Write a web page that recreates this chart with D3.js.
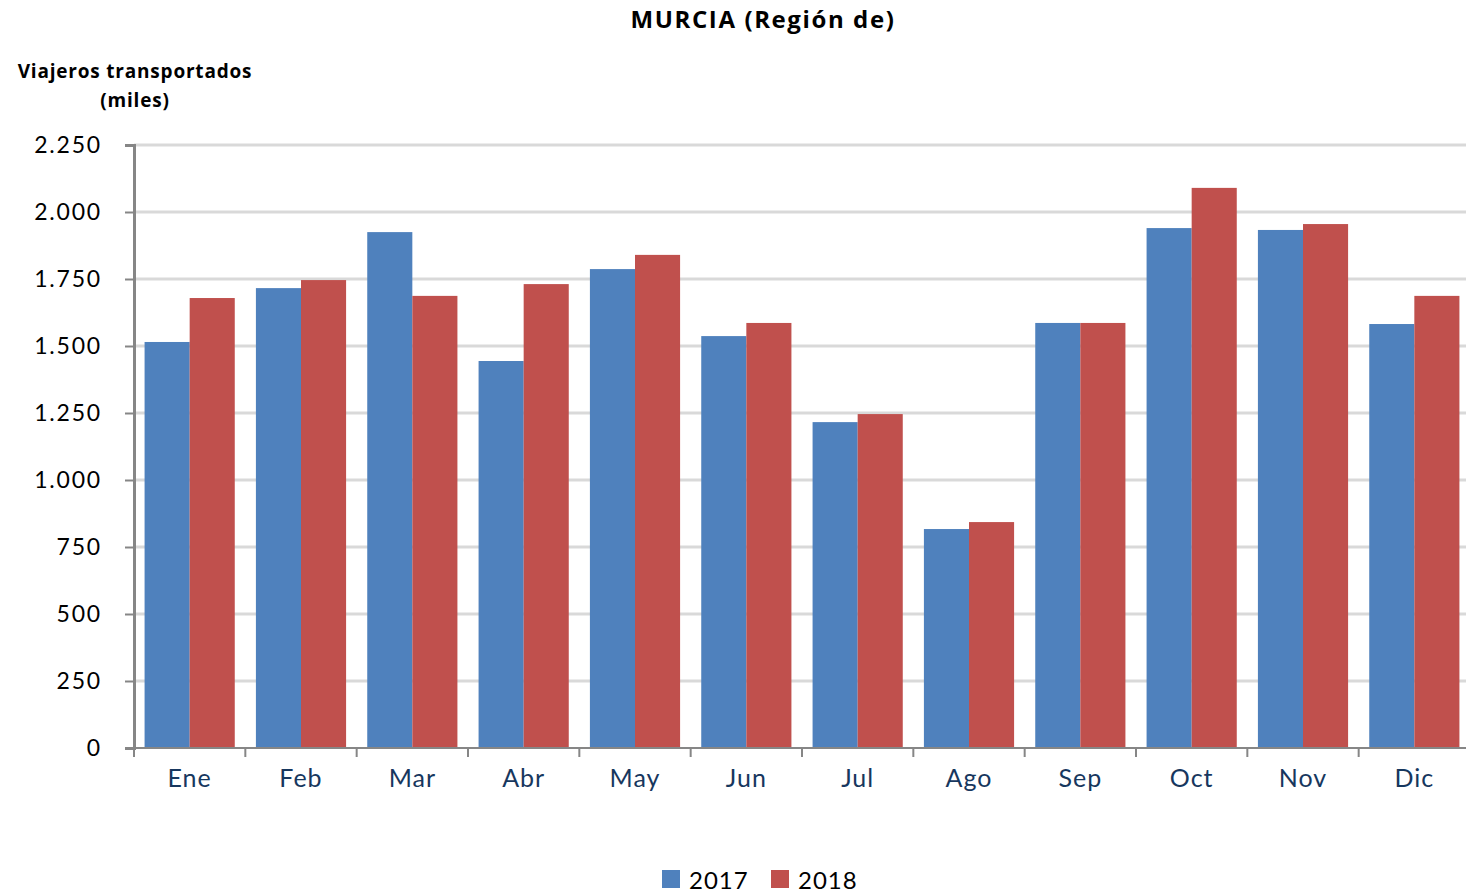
<!DOCTYPE html>
<html><head><meta charset="utf-8">
<script src="https://cdn.jsdelivr.net/npm/d3@7"></script>
<style>
body{margin:0;background:#fff;overflow:hidden}
svg{display:block;font-family:"Open Sans",Lato,sans-serif}
</style></head>
<body><svg id="c" width="1466" height="893"></svg>
<script>
const months = ["Ene","Feb","Mar","Abr","May","Jun","Jul","Ago","Sep","Oct","Nov","Dic"];
const series = ["2017","2018"];
const values2017 = [1515,1716,1925,1444,1787,1537,1216,817,1586,1940,1933,1582];
const values2018 = [1679,1746,1687,1731,1840,1586,1246,843,1586,2090,1955,1687];
const yTicks = [0,250,500,750,1000,1250,1500,1750,2000,2250];
const colors = ["#4F81BD","#C0504D"];

(function(){
const svg = d3.select("#c");
const L = 134, R = 1470, T = 145, B = 748;
const x = d3.scaleBand().domain(months).range([L, R]).paddingInner(0.19).paddingOuter(0.095);
const x0 = d3.scaleBand().domain(months).range([L, R]);
const xs = d3.scaleBand().domain(series).range([0, x.bandwidth()]);
const y = d3.scaleLinear().domain([0,2250]).range([B, T]);
const fmt = v => d3.format(",")(v).replace(/,/g,".");

svg.append("g").selectAll("line").data(yTicks.filter(d=>d>0)).join("line")
  .attr("x1", L).attr("x2", 1466).attr("y1", d=>y(d)).attr("y2", d=>y(d))
  .attr("stroke", "#D9D9D9").attr("stroke-width", 3);

const data = months.map((m,i)=>({m, v:[values2017[i], values2018[i]]}));
const g = svg.append("g").selectAll("g").data(data).join("g")
  .attr("transform", d=>`translate(${x(d.m)},0)`);
g.selectAll("rect").data(d=>d.v.map((v,j)=>({s:series[j], v, j}))).join("rect")
  .attr("x", d=>xs(d.s)).attr("width", xs.bandwidth())
  .attr("y", d=>y(d.v)).attr("height", d=>B - y(d.v))
  .attr("fill", d=>colors[d.j]);

const yAxis = d3.axisLeft(y).tickValues(yTicks).tickFormat(fmt).tickSize(9).tickPadding(23);
const ya = svg.append("g").attr("transform", `translate(${L},0)`).call(yAxis);
ya.select(".domain").attr("stroke", "#868686").attr("stroke-width", 3);
ya.selectAll(".tick line").attr("stroke", "#868686").attr("stroke-width", 2);
ya.selectAll("text").attr("font-size", 23).attr("fill", "#000").attr("font-family", "Lato,sans-serif")
  .attr("letter-spacing", 1.8);

const xa = svg.append("g").attr("transform", `translate(0,${B})`);
xa.append("line").attr("x1", L).attr("x2", 1466).attr("stroke", "#868686").attr("stroke-width", 2);
xa.selectAll(".tk").data(months).join("line").attr("class","tk")
  .attr("x1", d=>x0(d)).attr("x2", d=>x0(d)).attr("y1", 0).attr("y2", 9)
  .attr("stroke", "#868686").attr("stroke-width", 2);
xa.selectAll("text").data(months).join("text")
  .attr("x", d=>x0(d)+x0.bandwidth()/2).attr("y", 39)
  .attr("text-anchor", "middle").attr("font-size", 25).attr("fill", "#17375E")
  .attr("font-family", "Lato,sans-serif")
  .attr("letter-spacing", 1)
  .text(d=>d);

svg.append("text").attr("x", 763).attr("y", 28).attr("text-anchor","middle")
  .attr("font-size", 24).attr("font-weight","bold").attr("letter-spacing", 1.6).text("MURCIA (Región de)");
svg.append("text").attr("x", 135).attr("y", 78).attr("text-anchor","middle")
  .attr("font-size", 19).attr("font-weight","bold").attr("letter-spacing", 0.8).text("Viajeros transportados");
svg.append("text").attr("x", 135).attr("y", 107).attr("text-anchor","middle")
  .attr("font-size", 19).attr("font-weight","bold").attr("letter-spacing", 0.8).text("(miles)");

const lg = svg.append("g").selectAll("g").data(series).join("g")
  .attr("transform", (d,i)=>`translate(${662 + i*109},870)`);
lg.append("rect").attr("width", 18).attr("height", 18).attr("fill", (d,i)=>colors[i]);
lg.append("text").attr("x", 27).attr("y", 19).attr("font-size", 24)
  .attr("font-family", "Lato,sans-serif").attr("letter-spacing", 1).text(d=>d);
})();
</script></body></html>
